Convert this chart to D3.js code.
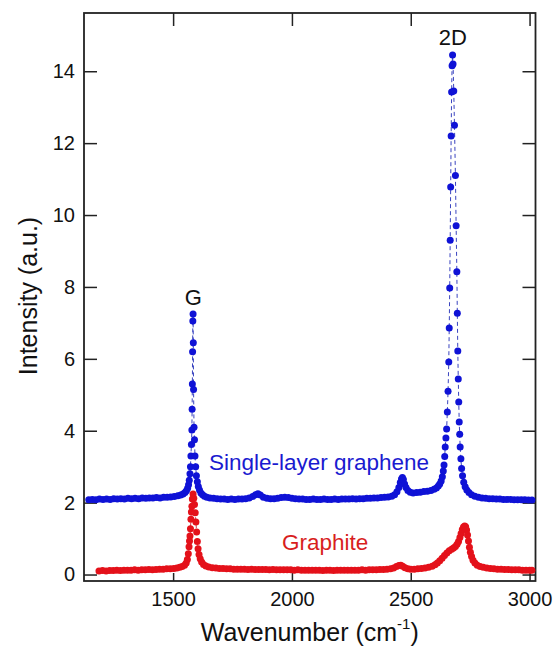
<!DOCTYPE html>
<html>
<head>
<meta charset="utf-8">
<script src="https://cdn.jsdelivr.net/npm/d3@7"></script>
<style>
  body { margin: 0; background: #fff; }
  text { font-family: "Liberation Sans", Arial, sans-serif; }
</style>
</head>
<body>
<div id="chart"></div>
<script>
"use strict";

// [wavenumber (cm-1), intensity (a.u.)]; graphene already offset by ~2
const grapheneData = [
  [1145,2.08],[1160,2.09],[1175,2.08],[1190,2.10],[1205,2.09],[1220,2.10],[1235,2.09],[1250,2.11],
  [1265,2.10],[1280,2.11],[1295,2.10],[1310,2.12],[1325,2.11],[1340,2.12],[1355,2.11],[1370,2.13],
  [1385,2.12],[1400,2.13],[1415,2.13],[1430,2.14],[1445,2.13],[1460,2.15],[1475,2.15],[1490,2.16],
  [1505,2.17],[1520,2.19],[1532,2.21],[1542,2.24],[1550,2.28],[1556,2.33],[1561,2.40],[1565,2.50],
  [1568,2.62],[1571,2.80],[1573,3.00],[1575,3.30],[1577,3.62],[1579,4.02],[1580,4.60],[1581,5.30],
  [1582,6.20],[1583,7.05],[1584,7.25],[1585,6.45],[1586,5.15],[1588,4.10],[1590,3.75],[1592,3.30],
  [1595,3.00],[1598,2.75],[1602,2.58],[1606,2.45],[1611,2.35],[1617,2.27],[1624,2.22],[1632,2.18],
  [1642,2.15],[1655,2.13],[1670,2.12],[1685,2.11],[1700,2.10],[1715,2.10],[1730,2.09],[1745,2.10],
  [1760,2.09],[1775,2.10],[1790,2.10],[1805,2.11],[1820,2.13],[1835,2.17],[1847,2.22],[1857,2.25],
  [1867,2.21],[1880,2.15],[1895,2.12],[1910,2.11],[1925,2.11],[1940,2.12],[1955,2.14],[1970,2.15],
  [1985,2.14],[2000,2.12],[2015,2.11],[2030,2.10],[2045,2.10],[2060,2.09],[2075,2.09],[2090,2.10],
  [2105,2.09],[2120,2.09],[2135,2.10],[2150,2.09],[2165,2.09],[2180,2.10],[2195,2.09],[2210,2.10],
  [2225,2.10],[2240,2.10],[2255,2.11],[2270,2.10],[2285,2.11],[2300,2.11],[2315,2.12],[2330,2.12],
  [2345,2.13],[2360,2.13],[2375,2.14],[2390,2.15],[2405,2.16],[2420,2.18],[2432,2.22],[2442,2.30],
  [2450,2.42],[2456,2.56],[2461,2.66],[2465,2.70],[2469,2.64],[2474,2.52],[2480,2.42],[2488,2.34],
  [2498,2.29],[2510,2.27],[2525,2.28],[2540,2.29],[2555,2.31],[2570,2.32],[2585,2.34],[2598,2.37],
  [2608,2.41],[2616,2.46],[2622,2.52],[2628,2.60],[2633,2.72],[2637,2.88],[2640,3.05],[2643,3.28],
  [2645,3.55],[2648,3.80],[2651,4.05],[2654,4.52],[2657,5.10],[2660,5.91],[2662,6.86],[2664,7.97],
  [2666,9.30],[2668,10.78],[2670,12.20],[2672,13.42],[2674,14.15],[2676,14.45],[2678,14.20],[2681,13.45],
  [2684,12.50],[2688,11.10],[2691,9.70],[2694,8.42],[2696,7.27],[2698,6.22],[2700,5.44],[2702,4.80],
  [2704,4.24],[2706,3.90],[2708,3.55],[2711,3.22],[2714,2.95],[2718,2.75],[2723,2.57],[2729,2.44],
  [2736,2.35],[2745,2.28],[2756,2.22],[2770,2.18],[2785,2.15],[2800,2.13],[2815,2.12],[2830,2.11],
  [2845,2.11],[2860,2.10],[2875,2.10],[2890,2.09],[2905,2.09],[2920,2.09],[2935,2.08],[2950,2.08],
  [2965,2.08],[2980,2.08],[2995,2.07],[3010,2.07]
];

const graphiteData = [
  [1188,0.10],[1203,0.11],[1218,0.10],[1233,0.11],[1248,0.11],[1263,0.12],[1278,0.11],[1293,0.12],
  [1308,0.12],[1323,0.12],[1338,0.13],[1353,0.12],[1368,0.13],[1383,0.13],[1398,0.14],[1413,0.13],
  [1428,0.14],[1443,0.15],[1458,0.15],[1473,0.16],[1488,0.16],[1503,0.17],[1516,0.18],[1528,0.20],
  [1538,0.22],[1548,0.26],[1555,0.32],[1560,0.42],[1564,0.58],[1567,0.77],[1569,0.93],[1571,1.07],
  [1573,1.27],[1575,1.54],[1577,1.74],[1579,1.90],[1581,2.10],[1584,2.24],[1587,2.12],[1590,1.95],
  [1593,1.72],[1596,1.46],[1599,1.18],[1602,0.92],[1605,0.72],[1609,0.56],[1614,0.44],[1620,0.35],
  [1628,0.28],[1638,0.24],[1650,0.21],[1665,0.19],[1680,0.18],[1695,0.17],[1710,0.17],[1725,0.16],
  [1740,0.16],[1755,0.15],[1770,0.15],[1785,0.15],[1800,0.15],[1815,0.14],[1830,0.15],[1845,0.14],
  [1860,0.14],[1875,0.14],[1890,0.14],[1905,0.13],[1920,0.14],[1935,0.13],[1950,0.13],[1965,0.13],
  [1980,0.13],[1995,0.13],[2010,0.12],[2025,0.13],[2040,0.12],[2055,0.12],[2070,0.12],[2085,0.12],
  [2100,0.12],[2115,0.12],[2130,0.11],[2145,0.12],[2160,0.12],[2175,0.11],[2190,0.12],[2205,0.12],
  [2220,0.12],[2235,0.12],[2250,0.12],[2265,0.12],[2280,0.12],[2295,0.13],[2310,0.12],[2325,0.13],
  [2340,0.13],[2355,0.13],[2370,0.14],[2385,0.14],[2400,0.15],[2415,0.16],[2428,0.18],[2440,0.22],
  [2450,0.25],[2458,0.26],[2466,0.23],[2476,0.19],[2488,0.16],[2500,0.15],[2515,0.15],[2530,0.16],
  [2545,0.17],[2560,0.18],[2575,0.20],[2590,0.23],[2602,0.27],[2612,0.32],[2622,0.38],[2632,0.45],
  [2642,0.53],[2652,0.60],[2662,0.66],[2672,0.70],[2680,0.74],[2688,0.78],[2695,0.84],[2701,0.92],
  [2707,1.03],[2712,1.14],[2717,1.25],[2722,1.32],[2727,1.35],[2731,1.33],[2735,1.24],[2739,1.10],
  [2743,0.93],[2747,0.76],[2751,0.62],[2756,0.50],[2762,0.40],[2770,0.32],[2780,0.26],[2792,0.22],
  [2805,0.20],[2820,0.18],[2835,0.17],[2850,0.16],[2865,0.15],[2880,0.15],[2895,0.14],[2910,0.14],
  [2925,0.13],[2940,0.13],[2955,0.13],[2970,0.12],[2985,0.12],[3000,0.12],[3010,0.12]
];

const xTicks = [1500, 2000, 2500, 3000];
const yTicks = [0, 2, 4, 6, 8, 10, 12, 14];
const peakLabels = [["G", 1585, 7.5], ["2D", 2677, 14.72]];
const seriesLabels = [["Single-layer graphene", 1651, 2.9, "#1a1ad0"], ["Graphite", 1958, 0.68, "#d81e1e"]];

const width = 556, height = 654;
const margin = {top: 13, right: 20.5, bottom: 73, left: 84};

const svg = d3.select("#chart").append("svg")
  .attr("width", width)
  .attr("height", height);

const x = d3.scaleLinear().domain([1125, 3025]).range([margin.left, width - margin.right]);
const y = d3.scaleLinear().domain([-0.18, 15.62]).range([height - margin.bottom, margin.top]);

// axes, ticks pointing inward on every side
const axisColor = "#222";
function styleAxis(g) {
  g.select(".domain").remove();
  g.selectAll("line").attr("stroke", axisColor).attr("stroke-width", 1.5);
  g.selectAll("text").attr("fill", "#111").style("font-size", "20px");
}

svg.append("g")
  .attr("transform", `translate(0,${height - margin.bottom})`)
  .call(d3.axisBottom(x).tickValues(xTicks).tickSize(-8).tickPadding(11).tickFormat(d3.format("d")))
  .call(styleAxis);

svg.append("g")
  .attr("transform", `translate(0,${margin.top})`)
  .call(d3.axisTop(x).tickValues(xTicks).tickSize(-13).tickFormat(""))
  .call(styleAxis);

svg.append("g")
  .attr("transform", `translate(${margin.left},0)`)
  .call(d3.axisLeft(y).tickValues(yTicks).tickSize(-13).tickPadding(9))
  .call(styleAxis);

svg.append("g")
  .attr("transform", `translate(${width - margin.right},0)`)
  .call(d3.axisRight(y).tickValues(yTicks).tickSize(-13).tickFormat(""))
  .call(styleAxis);

svg.append("rect")
  .attr("x", margin.left)
  .attr("y", margin.top)
  .attr("width", width - margin.left - margin.right)
  .attr("height", height - margin.top - margin.bottom)
  .attr("fill", "none")
  .attr("stroke", axisColor)
  .attr("stroke-width", 1.8);

// series: thin dashed connector, then dots
const line = d3.line().x(d => x(d[0])).y(d => y(d[1]));

function drawSeries(data, color, dashColor) {
  svg.append("path")
    .datum(data)
    .attr("d", line)
    .attr("fill", "none")
    .attr("stroke", dashColor)
    .attr("stroke-width", 1)
    .attr("stroke-dasharray", "4,3");
  svg.append("g").selectAll("circle")
    .data(data)
    .join("circle")
    .attr("cx", d => x(d[0]))
    .attr("cy", d => y(d[1]))
    .attr("r", 3.5)
    .attr("fill", color);
}
drawSeries(graphiteData, "#e4111a", "#d04050");
drawSeries(grapheneData, "#0f12d6", "#3a44c0");

// labels
svg.selectAll(".peak")
  .data(peakLabels)
  .join("text")
  .attr("class", "peak")
  .attr("x", d => x(d[1]))
  .attr("y", d => y(d[2]))
  .attr("text-anchor", "middle")
  .attr("fill", "#111")
  .style("font-size", "22px")
  .text(d => d[0]);

svg.selectAll(".series")
  .data(seriesLabels)
  .join("text")
  .attr("class", "series")
  .attr("x", d => x(d[1]))
  .attr("y", d => y(d[2]))
  .attr("fill", d => d[3])
  .style("font-size", "22.5px")
  .text(d => d[0]);

svg.append("text")
  .attr("transform", "translate(37,296) rotate(-90)")
  .attr("text-anchor", "middle")
  .attr("fill", "#111")
  .style("font-size", "25px")
  .text("Intensity (a.u.)");

const xt = svg.append("text")
  .attr("x", (margin.left + width - margin.right) / 2)
  .attr("y", 641)
  .attr("text-anchor", "middle")
  .attr("fill", "#111")
  .style("font-size", "25px");
xt.append("tspan").text("Wavenumber (cm");
xt.append("tspan").attr("dy", -12).style("font-size", "15px").text("-1");
xt.append("tspan").attr("dy", 12).text(")");
</script>
</body>
</html>
